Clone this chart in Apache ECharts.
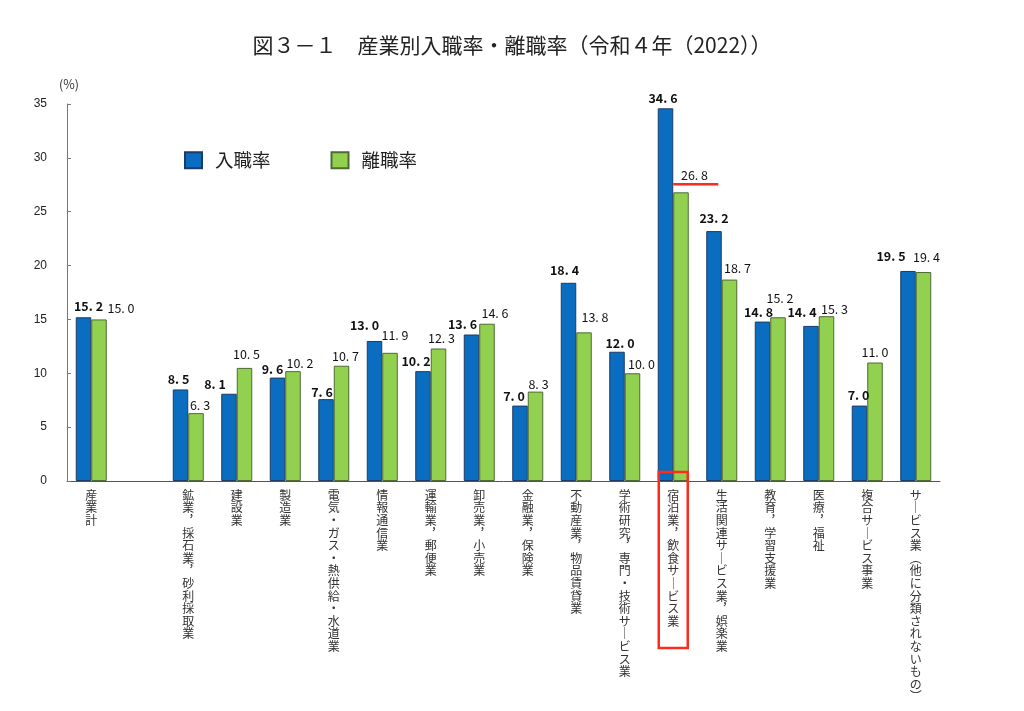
<!DOCTYPE html>
<html><head><meta charset="utf-8">
<script src="https://cdn.jsdelivr.net/npm/echarts@6/dist/echarts.min.js"></script>
<style>html,body{margin:0;padding:0;background:#fff}#c{width:1024px;height:711px}</style>
</head><body><div id="c"></div>
<script>
var titleText = '図３－１　産業別入職率・離職率（令和４年（2022））';
var categories = ['産業計','', '鉱業，採石業，砂利採取業','建設業','製造業','電気・ガス・熱供給・水道業','情報通信業','運輸業，郵便業','卸売業，小売業','金融業，保険業','不動産業，物品賃貸業','学術研究，専門・技術サービス業','宿泊業，飲食サービス業','生活関連サービス業，娯楽業','教育，学習支援業','医療，福祉','複合サービス事業','サービス業（他に分類されないもの）'];
var entryRate = [15.2, null, 8.5, 8.1, 9.6, 7.6, 13.0, 10.2, 13.6, 7.0, 18.4, 12.0, 34.6, 23.2, 14.8, 14.4, 7.0, 19.5];
var leaveRate = [15.0, null, 6.3, 10.5, 10.2, 10.7, 11.9, 12.3, 14.6, 8.3, 13.8, 10.0, 26.8, 18.7, 15.2, 15.3, 11.0, 19.4];
var seriesNames = ['入職率', '離職率'];
var highlightIndex = 12;

// label placement (layout only): [horizontal shift px, gap above bar px]
var entryLabelPos = [[5,7],null,[-2,6],[-14,5],[-5,4],[-4,3],[-10,11],[-7,6],[-9,6],[-6,5],[-4,8],[3,4],[-2.5,6],[0,9],[-4,5],[-9,9],[-1,6],[-17,10]];
var leaveLabelPos = [[22,7],null,[4,4],[2,9],[7,4],[4,5],[5,13],[3,6],[8,6],[3,3],[11,11],[9,5],[13.5,13],[8,7],[2,15],[8,3],[0,6],[3,11]];

var fontCJK = '"Noto Sans CJK JP", "Noto Sans", sans-serif';
function fmt(v){ return v.toFixed(1).replace('.', '. '); }
function vert(s){
  var map = {'，':'︐','ー':'｜','（':'︵','）':'︶'};
  return s.split('').map(function(c){ return map[c] || c; }).join('\n');
}
function buildData(arr, pos){
  return arr.map(function(v, i){
    if (v == null) return null;
    var p = pos[i] || [0, 6];
    return {value: v, label: {offset: [p[0], -(p[1] - 2)]}};
  });
}
var chart = echarts.init(document.getElementById('c'));
var option = {
  animation: false,
  title: {text: titleText, left: 'center', top: 30, textStyle: {fontFamily: fontCJK, fontSize: 21, fontWeight: 'normal', color: '#222'}},
  legend: {left: 184, top: 151, padding: 0, itemWidth: 17, itemHeight: 16, itemGap: 60, icon: 'rect',
    textStyle: {fontFamily: fontCJK, fontSize: 18.5, color: '#222', padding: [0,0,0,8]}},
  grid: {left: 67, right: 84, top: 104, bottom: 230, containLabel: false, outerBoundsMode: 'none'},
  xAxis: {type: 'category', data: categories,
    axisLine: {lineStyle: {color: '#555'}},
    axisTick: {inside: true, length: 4, lineStyle: {color: '#555'}},
    axisLabel: {interval: 0, margin: 8, fontFamily: fontCJK, fontSize: 12, lineHeight: 12.6, color: '#333', formatter: vert}
  },
  yAxis: {type: 'value', min: 0, max: 35, interval: 5,
    name: '(%)', nameLocation: 'end', nameGap: 13, nameTextStyle: {fontFamily: fontCJK, fontSize: 12.5, color: '#333', padding: [0,0,0,4]},
    splitLine: {show: false},
    axisLine: {show: true, lineStyle: {color: '#777'}},
    axisTick: {show: true, inside: true, length: 4, lineStyle: {color: '#777'}},
    axisLabel: {margin: 20, fontFamily: 'Liberation Sans, Arial, sans-serif', fontSize: 12, color: '#222'}
  },
  series: [
    {name: seriesNames[0], type: 'bar', data: buildData(entryRate, entryLabelPos), barWidth: 15.5, barGap: '0%',
      itemStyle: {color: '#0A6DBF', borderColor: '#1d3b66', borderWidth: 1},
      label: {show: true, position: 'top', distance: 0, formatter: function(p){ return fmt(p.value); },
        fontFamily: fontCJK, fontSize: 12.5, fontWeight: 'bold', color: '#111'}},
    {name: seriesNames[1], type: 'bar', data: buildData(leaveRate, leaveLabelPos), barWidth: 15.5,
      itemStyle: {color: '#92D050', borderColor: '#4f6a33', borderWidth: 1},
      label: {show: true, position: 'top', distance: 0, formatter: function(p){ return fmt(p.value); },
        fontFamily: fontCJK, fontSize: 12.5, color: '#111'}}
  ]
};
chart.setOption(option);
var cx = chart.convertToPixel({xAxisIndex: 0}, highlightIndex);
var y0 = chart.convertToPixel({yAxisIndex: 0}, 0);
var yTop = chart.convertToPixel({yAxisIndex: 0}, leaveRate[highlightIndex]);
chart.setOption({graphic: [
  {type: 'rect', shape: {x: cx - 14.5, y: y0 - 9, width: 29, height: 176}, style: {fill: 'none', stroke: '#FF2A1A', lineWidth: 2.5}, z: 100},
  {type: 'line', shape: {x1: cx, y1: yTop - 8, x2: cx + 45, y2: yTop - 8}, style: {stroke: '#FF2A1A', lineWidth: 2.5}, z: 100}
]});
</script></body></html>
